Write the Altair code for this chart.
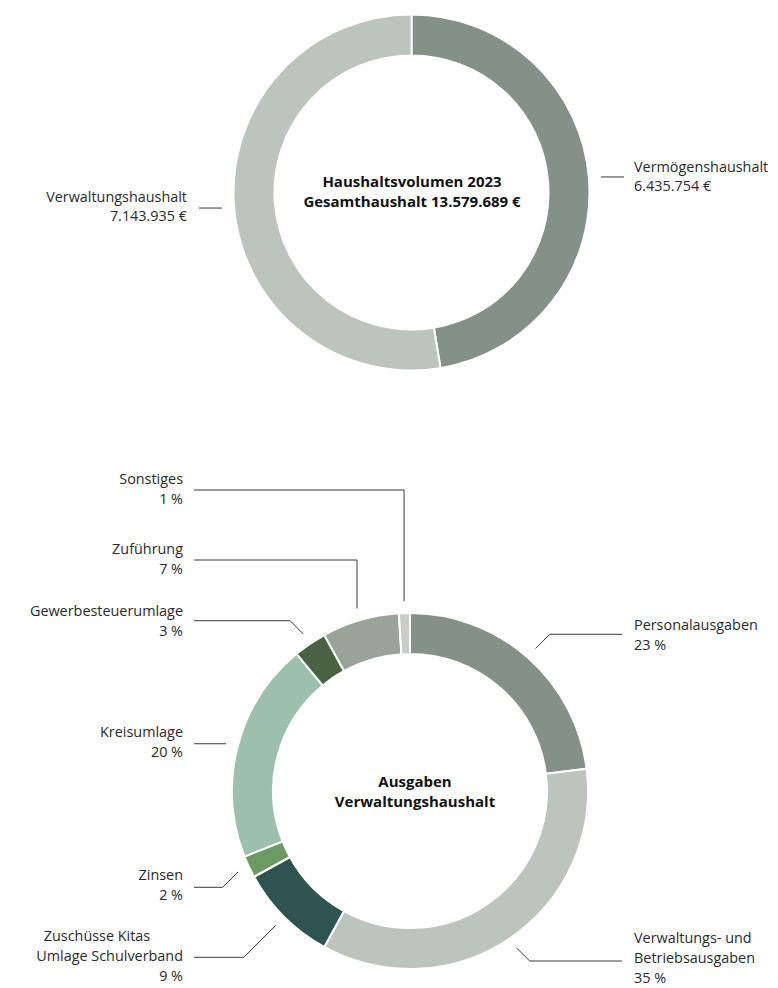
import math
import altair as alt
import pandas as pd

# ---------------- data ----------------
top_cats = ["Vermögenshaushalt", "Verwaltungshaushalt"]
top_vals = [6435754, 7143935]
top_colors = ["#849186", "#bbc5bb"]
top_center = ["Haushaltsvolumen 2023", "Gesamthaushalt 13.579.689 €"]

bot_cats = ["Personalausgaben", "Verwaltungs- und Betriebsausgaben",
            "Zuschüsse Kitas Umlage Schulverband", "Zinsen", "Kreisumlage",
            "Gewerbesteuerumlage", "Zuführung", "Sonstiges"]
bot_pcts = [23, 35, 9, 2, 20, 3, 7, 1]
bot_colors = ["#849186", "#bbc5bb", "#2f5350", "#6b9a63", "#9cc0a9",
              "#4a6142", "#98a497", "#c6cec6"]
bot_lines = [["Personalausgaben"], ["Verwaltungs- und", "Betriebsausgaben"],
             ["Zuschüsse Kitas", "Umlage Schulverband"], ["Zinsen"], ["Kreisumlage"],
             ["Gewerbesteuerumlage"], ["Zuführung"], ["Sonstiges"]]
bot_center = ["Ausgaben", "Verwaltungshaushalt"]

# ---------------- layout (page pixel coords) ----------------
OFF = 8
W, H = 762, 980
R_OUT, R_IN, R_ANCH = 178, 137, 190
TOP_C = (411.5, 192.5)
BOT_C = (410, 791)

# per category: side, first text line y, leader y, leader kind
top_layout = [("R", 168, None, "h"), ("L", 198, None, "h")]
top_text_x = {"L": 187, "R": 634}
top_end_x = {"L": 199, "R": 624}
top_step = 19

bot_layout = [("R", 626, 634.3, "d"), ("R", 939, 961, "d"), ("L", 937, 957.3, "d"),
              ("L", 876, 887.3, "d"), ("L", 733, 743.3, "h"), ("L", 611.5, 620.7, "d"),
              ("L", 550, 560, "v"), ("L", 480, 490, "v")]
bot_text_x = {"L": 183, "R": 634}
bot_end_x = {"L": 194, "R": 622}
bot_step = 20


def fmt_eur(v):
    return f"{v:,}".replace(",", ".") + " €"


def anchors(vals, c):
    tot = sum(vals)
    out, cum = [], 0
    for v in vals:
        mid = (cum + v / 2) / tot * 2 * math.pi
        cum += v
        out.append((c[0] + R_ANCH * math.sin(mid), c[1] - R_ANCH * math.cos(mid)))
    return out


line_rows, text_rows = [], []


def build(prefix, cats, lines_list, values_txt, vals, c, layout, text_x, end_x, step):
    for i, (cat, lines, vt, a, lay) in enumerate(
            zip(cats, lines_list, values_txt, anchors(vals, c), layout)):
        side, y0, ly, kind = lay
        ax, ay = a
        ex = end_x[side]
        if kind == "h":
            pts = [(ax, ay), (ex, ay)]
        elif kind == "v":
            pts = [(ax, ay), (ax, ly), (ex, ly)]
        else:
            sgn = 1 if side == "R" else -1
            pts = [(ax, ay), (ax + sgn * abs(ly - ay), ly), (ex, ly)]
        for k, (px, py) in enumerate(pts):
            line_rows.append({"g": f"{prefix}{i}", "k": k, "x": px - OFF, "y": py - OFF})
        all_lines = lines + [vt]
        for j, t in enumerate(all_lines):
            al = "right" if side == "L" else "left"
            tx = text_x[side]
            if t == "Zuschüsse Kitas":
                al, tx = "center", 97
            text_rows.append({"t": t, "x": tx - OFF, "y": y0 + j * step - OFF, "al": al})


build("t", top_cats, [[c] for c in top_cats], [fmt_eur(v) for v in top_vals], top_vals,
      TOP_C, top_layout, top_text_x, top_end_x, top_step)
build("b", bot_cats, bot_lines, [f"{p} %" for p in bot_pcts], bot_pcts,
      BOT_C, bot_layout, bot_text_x, bot_end_x, bot_step)

center_rows = []
for j, t in enumerate(top_center):
    center_rows.append({"t": t, "x": 412 - OFF, "y": 181.5 + j * 20.5 - OFF})
for j, t in enumerate(bot_center):
    center_rows.append({"t": t, "x": 415 - OFF, "y": 781.5 + j * 20 - OFF})

top_df = pd.DataFrame({"cat": top_cats, "v": top_vals, "i": range(len(top_cats))})
bot_df = pd.DataFrame({"cat": bot_cats, "v": bot_pcts, "i": range(len(bot_cats))})
line_df = pd.DataFrame(line_rows)
text_df = pd.DataFrame(text_rows)
center_df = pd.DataFrame(center_rows)

FONT = "Open Sans"


def donut(df, cats, colors, c):
    return alt.Chart(df).mark_arc(radius=R_OUT, radius2=R_IN, stroke="white",
                                  strokeWidth=2).encode(
        theta=alt.Theta("v:Q", stack=True),
        order=alt.Order("i:Q"),
        color=alt.Color("cat:N", scale=alt.Scale(domain=cats, range=colors), legend=None),
        x=alt.value(c[0] - OFF),
        y=alt.value(c[1] - OFF),
    )


top_arc = donut(top_df, top_cats, top_colors, TOP_C)
bot_arc = donut(bot_df, bot_cats, bot_colors, BOT_C)

px = alt.X("x:Q", scale=None, axis=None)
py = alt.Y("y:Q", scale=None, axis=None)

leaders = alt.Chart(line_df).mark_line(color="#3a3a3a", strokeWidth=1).encode(
    x=px, y=py, detail="g:N", order="k:Q")


def texts(al):
    return alt.Chart(text_df[text_df["al"] == al]).mark_text(
        align=al, baseline="middle", font=FONT, fontSize=14.4, color="#2a2a2a").encode(
        x=px, y=py, text="t:N")


centers = alt.Chart(center_df).mark_text(
    align="center", baseline="middle", font=FONT, fontSize=15, fontWeight="bold",
    color="#111111").encode(x=px, y=py, text="t:N")

chart = alt.layer(
    top_arc, bot_arc, leaders, texts("left"), texts("right"), texts("center"), centers
).resolve_scale(theta="independent", color="independent").properties(
    width=W, height=H, padding=0, autosize="none"
).configure_view(stroke=None)

chart.save("out.html", embed_options={"renderer": "svg", "actions": False})
